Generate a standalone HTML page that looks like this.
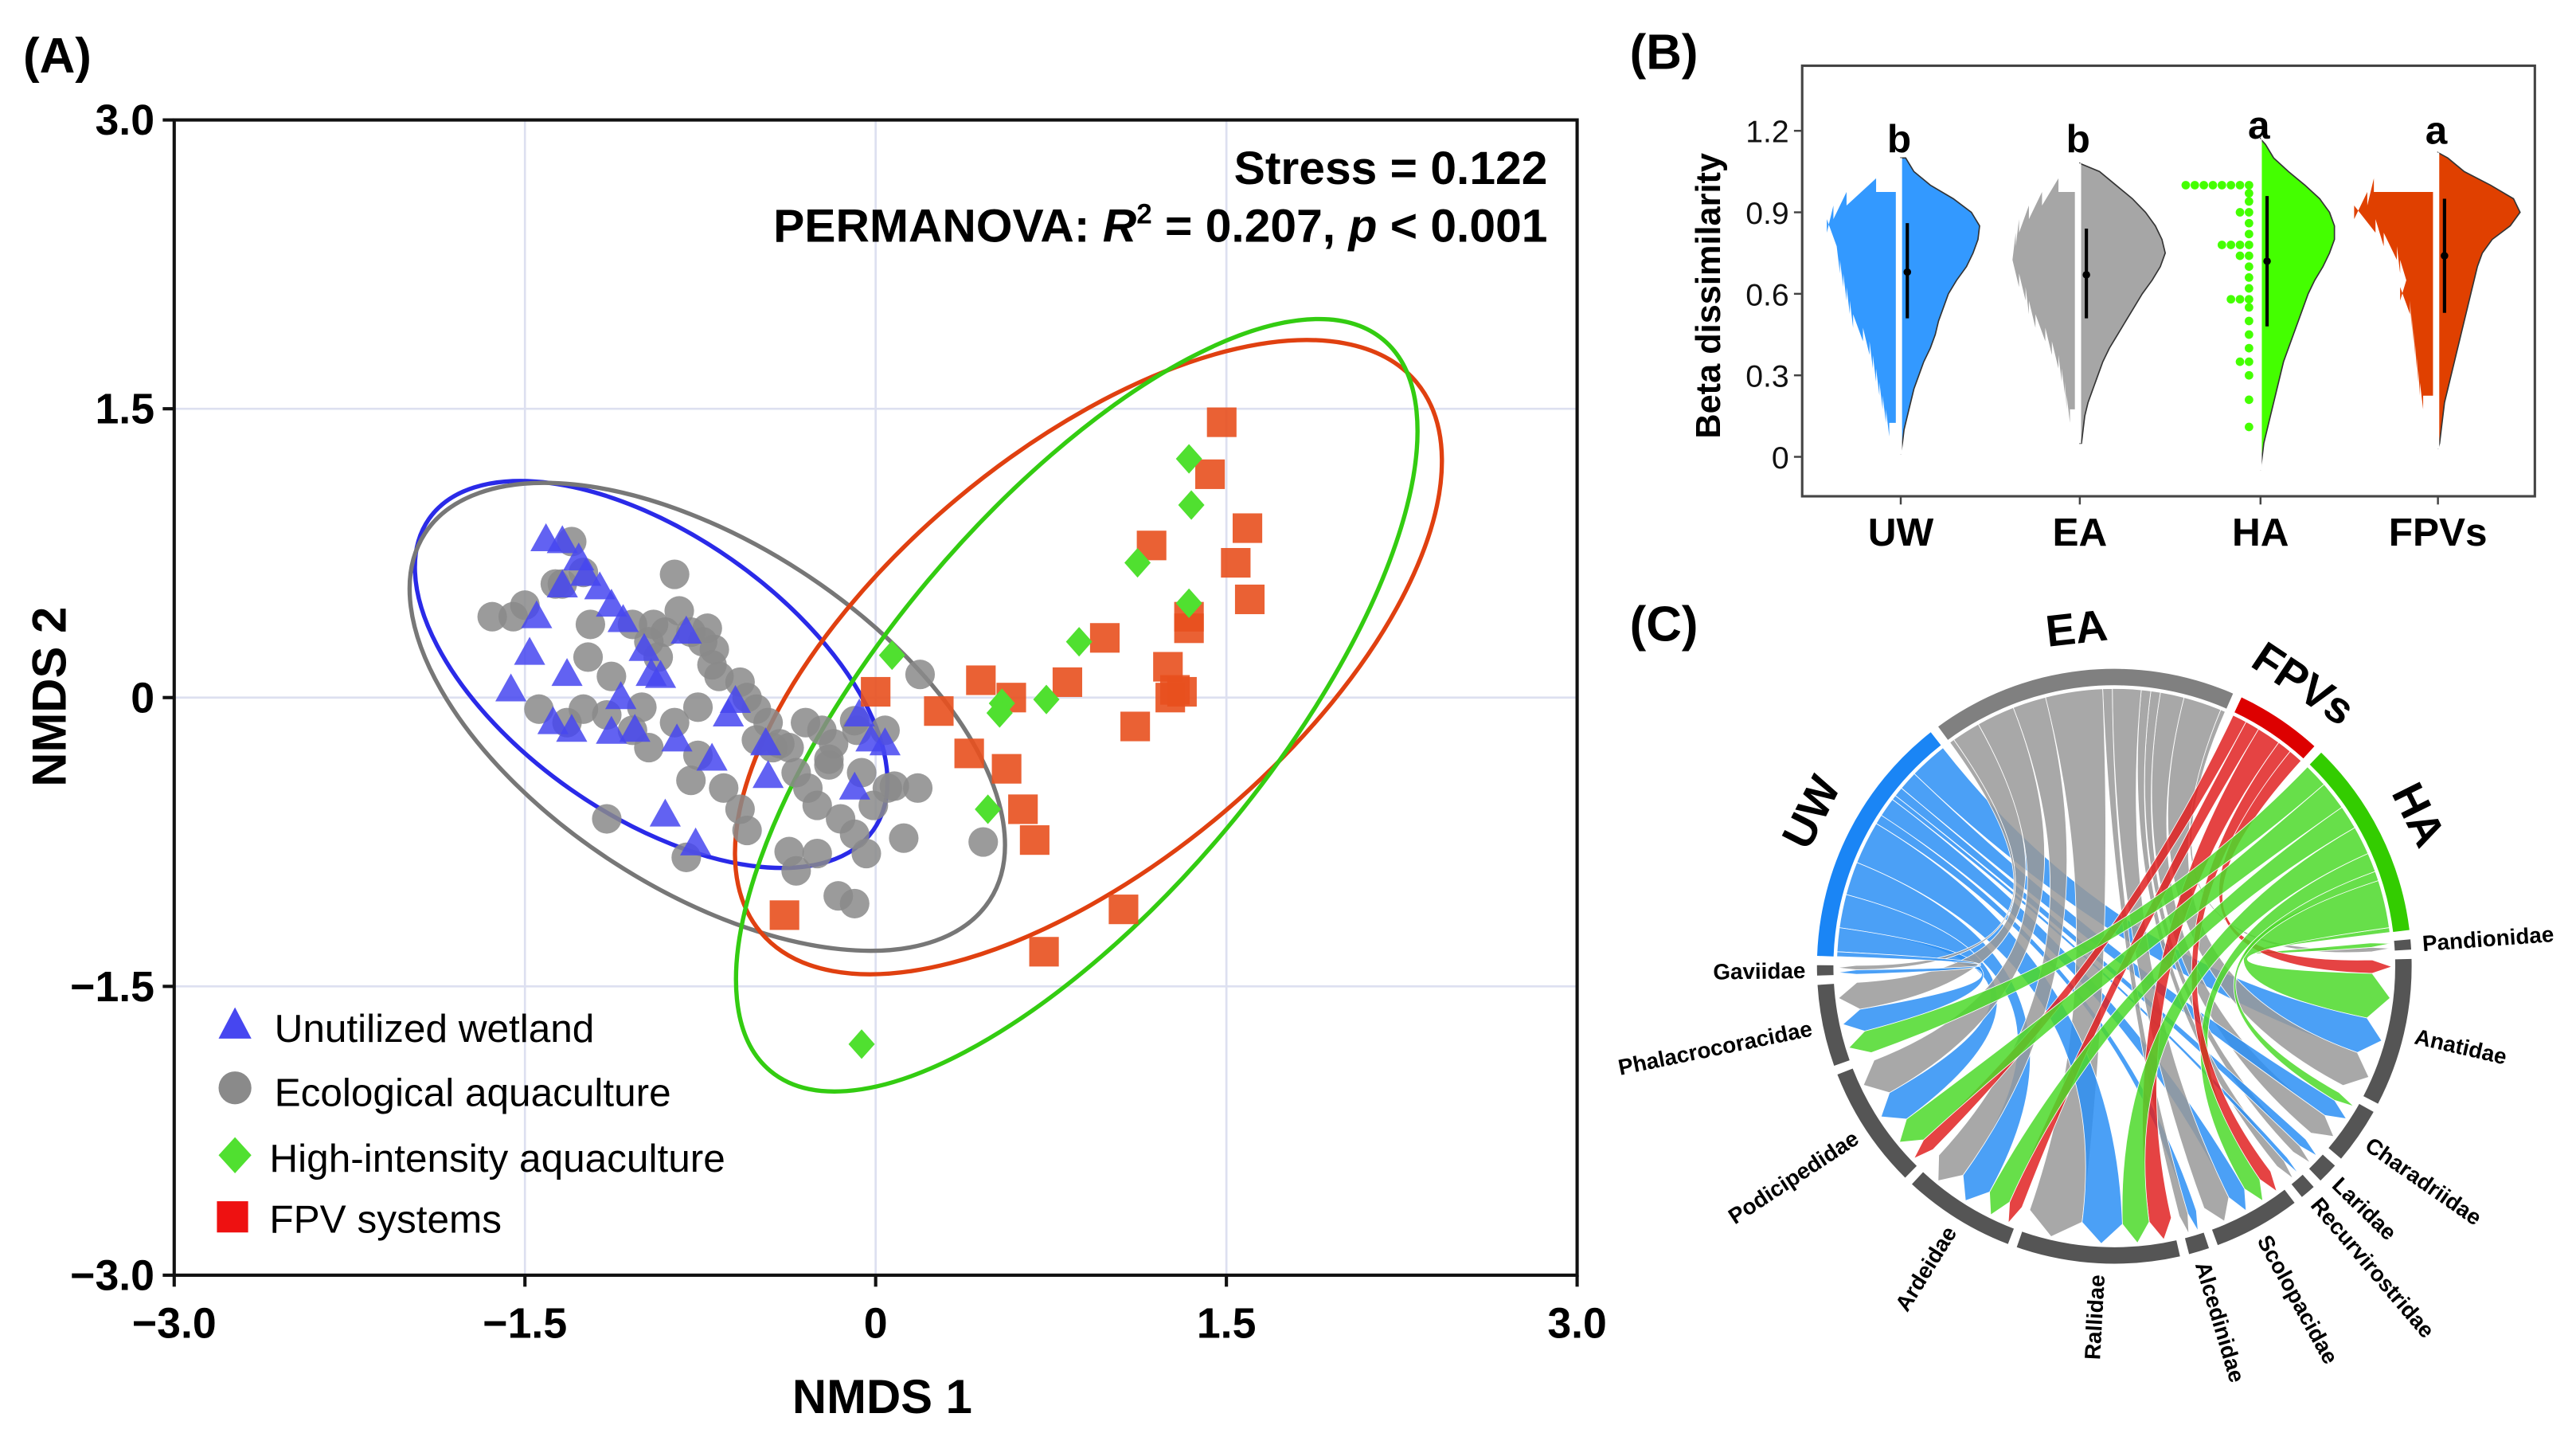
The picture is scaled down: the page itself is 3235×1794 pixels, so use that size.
<!DOCTYPE html>
<html><head><meta charset="utf-8">
<style>
html,body{margin:0;padding:0;background:#fff;}
svg{display:block;font-family:"Liberation Sans",Arial,sans-serif;}
</style></head>
<body>
<svg id="fig" width="3235" height="1794" viewBox="0 0 1568 869.6" xmlns="http://www.w3.org/2000/svg">
<g id="panelA"></g>
<g id="panelB"></g>
<g id="panelC"></g>
</svg>
<script>
// ===== Panel A data =====
const uwX=[-1.41,-1.34,-1.27,-1.24,-1.18,-1.13,-1.08,-1.34,-1.45,-1.48,-1.56,-1.32,-1.38,-1.30,-1.13,-1.03,-1.09,-0.96,-0.99,-0.92,-0.85,-0.81,-0.70,-0.63,-0.60,-0.47,-0.46,-0.90,-0.77,-0.07,-0.02,0.04,-0.09];
const uwY=[0.82,0.81,0.72,0.64,0.57,0.48,0.40,0.58,0.42,0.23,0.04,0.12,-0.13,-0.17,-0.18,-0.17,0.00,0.12,0.25,0.11,-0.22,0.34,-0.32,-0.09,-0.02,-0.24,-0.41,-0.61,-0.76,-0.09,-0.22,-0.24,-0.47];
const eaX=[-1.55,-1.50,-1.34,-1.30,-1.25,-1.37,-1.23,-1.13,-1.04,-0.97,-0.90,-0.86,-0.79,-0.74,-0.70,-0.67,-0.58,-0.55,-0.51,-0.46,-0.41,-0.37,-0.34,-0.29,-0.25,-0.20,-0.15,-0.09,-0.04,-0.01,0.05,0.08,0.12,0.18,0.19,-0.65,-0.58,-0.55,-0.37,-0.34,-0.25,-0.16,-0.09,-0.08,0.04,-1.15,-0.81,0.46,-0.95,-0.76,-0.86,-1.00,-1.15,-1.44,-1.32,-1.25,-1.04,-0.97,-0.76,-0.79,-0.51,-0.44,-0.30,-0.23,-0.18,-0.09,-0.06,-0.20,-0.84,-0.72,-0.69,-1.64,-1.22,-0.93];
const eaY=[0.42,0.48,0.59,0.81,0.65,0.59,0.21,0.11,0.38,0.29,0.34,0.64,0.34,0.29,0.17,0.11,0.08,0.00,-0.06,-0.13,-0.24,-0.26,-0.39,-0.47,-0.56,-0.35,-0.63,-0.71,-0.81,-0.56,-0.47,-0.46,-0.73,-0.47,0.12,-0.47,-0.58,-0.69,-0.80,-0.90,-0.81,-1.03,-1.07,-0.17,-0.17,-0.63,-0.83,-0.75,0.38,-0.05,-0.13,-0.05,-0.09,-0.06,-0.13,-0.06,-0.17,-0.26,-0.30,-0.43,-0.22,-0.26,-0.13,-0.17,-0.24,-0.12,-0.39,-0.32,0.45,0.36,0.25,0.42,0.38,0.21];
const haX=[1.34,1.35,1.12,1.34,0.87,0.07,0.54,0.53,0.73,0.48,-0.06];
const haY=[1.24,1.00,0.70,0.49,0.29,0.22,-0.03,-0.08,-0.01,-0.58,-1.80];
const fpvX=[1.48,1.43,1.59,1.18,1.54,1.60,1.34,1.34,0.98,1.25,1.28,1.26,1.31,0.45,0.00,0.58,0.82,0.27,1.11,0.40,0.56,0.63,0.68,1.06,0.72,-0.39];
const fpvY=[1.43,1.16,0.88,0.79,0.70,0.51,0.42,0.36,0.31,0.16,0.04,0.00,0.03,0.09,0.03,0.00,0.08,-0.07,-0.15,-0.29,-0.37,-0.58,-0.74,-1.10,-1.32,-1.13];
const axisTicks=[-3.0,-1.5,0,1.5,3.0];
const axisTickLabels=["\u22123.0","\u22121.5","0","1.5","3.0"];
const ellCx=[-0.96,-0.72,0.91,0.86];
const ellCy=[0.12,-0.10,0.21,-0.04];
const ellRx=[1.16,1.44,1.83,2.04];
const ellRy=[0.60,0.74,0.88,0.83];
const ellRot=[35,33,-40,-50];
const ellColor=["#2a2ae8","#777777","#e04010","#33cc11"];

// ===== Panel B data =====
const bCats=["UW","EA","HA","FPVs"];
const bLetters=["b","b","a","a"];
const bLetterY=[1.17,1.17,1.22,1.2];
const densLevels=[0,0.05,0.1,0.15,0.2,0.25,0.3,0.35,0.4,0.45,0.5,0.55,0.6,0.65,0.7,0.75,0.8,0.85,0.9,0.95,1.0,1.05,1.1,1.15,1.2];
const densUW=[0,1,2,4,6,8,11,14,18,21,23,26,29,34,40,44,47,48,43,32,18,8,3,0,0];
const densEA=[0,1,2,3,5,8,11,14,18,23,28,33,38,44,49,52,50,46,40,32,22,12,5,1,0];
const densHA=[1,2,4,6,8,10,12,14,17,20,23,26,29,33,38,42,45,45,42,36,27,17,8,3,1];
const densFPV=[0,1,2,3,4,6,8,10,12,14,16,18,20,22,24,27,33,44,50,46,32,16,6,2,0];
const dotsUW=[0,0,4,6,8,10,12,14,16,20,26,28,30,32,34,36,36,42,38,30,12,0,0,0,0];
const dotsEA=[0,0,0,3,5,6,8,10,14,18,24,28,30,34,38,38,36,34,28,20,10,0,0,0,0];
const dotsFPV=[0,0,0,0,6,8,9,10,11,12,13,14,20,15,20,22,30,35,48,40,36,0,0,0,0];
const haDotY=[0.11,0.21,0.3,0.35,0.4,0.45,0.5,0.55,0.58,0.62,0.66,0.7,0.74,0.78,0.82,0.86,0.9,0.94,0.97,1.0];
const haDotN=[1,1,1,2,1,1,1,1,3,1,1,1,2,4,1,1,2,1,1,8];
const bQ1=[0.51,0.51,0.48,0.53];
const bQ3=[0.86,0.84,0.96,0.95];
const bMed=[0.68,0.67,0.72,0.74];
const bRangeMin=[0.01,0.05,-0.05,0.03];
const bRangeMax=[1.1,1.08,1.17,1.12];
const bTicks=[0,0.3,0.6,0.9,1.2];

// ===== Panel C data =====
const groups=["UW","EA","FPVs","HA"];
const families=["Pandionidae","Anatidae","Charadriidae","Laridae","Recurvirostridae","Scolopacidae","Alcedinidae","Rallidae","Ardeidae","Podicipedidae","Phalacrocoracidae","Gaviidae"];
const linkSrc=["EA","HA","FPVs","HA","UW","EA","EA","UW","HA","EA","UW","EA","UW","UW","EA","HA","FPVs","UW","EA","EA","FPVs","HA","UW","EA","FPVs","HA","UW","EA","FPVs","HA","UW","EA","UW","EA","HA","EA","UW"];
const linkFam=["Pandionidae","Pandionidae","Anatidae","Anatidae","Anatidae","Anatidae","Charadriidae","Charadriidae","Charadriidae","Laridae","Laridae","Recurvirostridae","Recurvirostridae","Scolopacidae","Scolopacidae","Scolopacidae","Scolopacidae","Alcedinidae","Alcedinidae","Rallidae","Rallidae","Rallidae","Rallidae","Rallidae","Ardeidae","Ardeidae","Ardeidae","Ardeidae","Podicipedidae","Podicipedidae","Podicipedidae","Podicipedidae","Phalacrocoracidae","Phalacrocoracidae","Phalacrocoracidae","Gaviidae","Gaviidae"];
const linkVal=[1,1,3,10,8,8,5,4,2,2,2,2,1,4,6,4,3,2,2,12,5,6,9,0,3,5,7,7,3,6,7,8,5,6,5,1,1];

const NS="http://www.w3.org/2000/svg";
function mk(parent,tag,attrs,text){const e=document.createElementNS(NS,tag);for(const k in attrs)e.setAttribute(k,attrs[k]);if(text!==undefined)e.textContent=text;parent.appendChild(e);return e;}

// ---------- Panel A ----------
(function(){
const g=document.getElementById('panelA');
const L=106,R=960,T=73,B=776;
const sx=v=>L+(v+3)/6*(R-L), sy=v=>B-(v+3)/6*(B-T);
const ux=(R-L)/6;
let e=mk(g,'text',{x:14,y:44,'font-size':30,'font-weight':'bold'},'(A)');

[-1.5,0,1.5].forEach(v=>{
 e=mk(g,'line',{x1:sx(v),x2:sx(v),y1:T,y2:B,stroke:'#dde0f0','stroke-width':1.3});
 
 e=mk(g,'line',{x1:L,x2:R,y1:sy(v),y2:sy(v),stroke:'#dde0f0','stroke-width':1.3});
 
});
e=mk(g,'rect',{x:L,y:T,width:R-L,height:B-T,fill:'none',stroke:'#111','stroke-width':2});

axisTicks.forEach((v,i)=>{
 e=mk(g,'line',{x1:sx(v),x2:sx(v),y1:B,y2:B+7,stroke:'#111','stroke-width':2});
 
 e=mk(g,'text',{x:sx(v),y:B+38,'font-size':26,'font-weight':'bold','text-anchor':'middle'},axisTickLabels[i]);
 
 e=mk(g,'line',{x1:L-7,x2:L,y1:sy(v),y2:sy(v),stroke:'#111','stroke-width':2});
 
 e=mk(g,'text',{x:L-12,y:sy(v)+9,'font-size':26,'font-weight':'bold','text-anchor':'end'},axisTickLabels[i]);
 
});
e=mk(g,'text',{x:537,y:860,'font-size':29,'font-weight':'bold','text-anchor':'middle'},'NMDS 1');

e=mk(g,'text',{x:0,y:0,'font-size':29,'font-weight':'bold','text-anchor':'middle',transform:'translate(40,424) rotate(-90)'},'NMDS 2');

e=mk(g,'text',{x:942,y:112,'font-size':28.5,'font-weight':'bold','text-anchor':'end'},'Stress = 0.122');

e=mk(g,'text',{x:942,y:147,'font-size':28.5,'font-weight':'bold','text-anchor':'end'});

e.innerHTML='PERMANOVA: <tspan font-style="italic">R</tspan><tspan font-size="17" dy="-11">2</tspan><tspan dy="11"> = 0.207, </tspan><tspan font-style="italic">p</tspan> &lt; 0.001';
ellCx.forEach((c,i)=>{
 e=mk(g,'ellipse',{cx:sx(c),cy:sy(ellCy[i]),rx:ellRx[i]*ux,ry:ellRy[i]*ux,fill:'none',stroke:ellColor[i],'stroke-width':2.6,transform:`rotate(${ellRot[i]} ${sx(c)} ${sy(ellCy[i])})`});
 
});
eaX.forEach((x,i)=>{e=mk(g,'circle',{cx:sx(x),cy:sy(eaY[i]),r:9,fill:'#8a8a8a','fill-opacity':0.85});
 });
uwX.forEach((x,i)=>{const cx=sx(x),cy=sy(uwY[i]);e=mk(g,'polygon',{points:`${cx},${cy-10} ${cx-9.5},${cy+7} ${cx+9.5},${cy+7}`,fill:'#4646f0','fill-opacity':0.85});
 });
fpvX.forEach((x,i)=>{const cx=sx(x),cy=sy(fpvY[i]);e=mk(g,'rect',{x:cx-9,y:cy-9,width:18,height:18,fill:'#e8501e','fill-opacity':0.9});
 });
haX.forEach((x,i)=>{const cx=sx(x),cy=sy(haY[i]);e=mk(g,'polygon',{points:`${cx},${cy-9} ${cx+8},${cy} ${cx},${cy+9} ${cx-8},${cy}`,fill:'#50e030'});
 });
const lg=mk(g,'g',{});
e=mk(lg,'polygon',{points:'143,613 133,632 153,632',fill:'#4646f0'});
e=mk(lg,'text',{x:167,y:634,'font-size':24},'Unutilized wetland');
e=mk(lg,'circle',{cx:143,cy:662,r:10,fill:'#8a8a8a'});
e=mk(lg,'text',{x:167,y:673,'font-size':24},'Ecological aquaculture');
e=mk(lg,'polygon',{points:'143,692 153,703 143,714 133,703',fill:'#50e030'});
e=mk(lg,'text',{x:164,y:713,'font-size':24},'High-intensity aquaculture');
e=mk(lg,'rect',{x:132,y:731,width:19,height:19,fill:'#ee1111'});
e=mk(lg,'text',{x:164,y:750,'font-size':24},'FPV systems');
})();

// ---------- Panel B ----------
(function(){
const g=document.getElementById('panelB');
const L=1097,R=1543,T=40,B=302;
const cx=[1157,1266,1376,1484];
const sy=v=>278-v/0.3*49.6;
const cols=['#3399ff','#a6a6a6','#44ff00','#e04000'];
const dens=[densUW,densEA,densHA,densFPV];
const dots=[dotsUW,dotsEA,null,dotsFPV];
const half=0.025;
let e=mk(g,'text',{x:992,y:42,'font-size':30,'font-weight':'bold'},'(B)');

e=mk(g,'rect',{x:L,y:T,width:R-L,height:B-T,fill:'none',stroke:'#444','stroke-width':1.5});

bTicks.forEach(v=>{
 e=mk(g,'line',{x1:L-5,x2:L,y1:sy(v),y2:sy(v),stroke:'#444','stroke-width':1.2});
 
 e=mk(g,'text',{x:L-8,y:sy(v)+7,'font-size':19,'text-anchor':'end',fill:'#111'},v===0?'0':v.toFixed(1));
 
});
e=mk(g,'text',{x:0,y:0,'font-size':21,'font-weight':'bold','text-anchor':'middle',transform:'translate(1047,180) rotate(-90)'},'Beta dissimilarity');

bCats.forEach((c,i)=>{
 const x=cx[i];
 e=mk(g,'line',{x1:x,x2:x,y1:B,y2:B+5,stroke:'#444','stroke-width':1.2});
 
 e=mk(g,'text',{x:x,y:332,'font-size':24,'font-weight':'bold','text-anchor':'middle'},c);
 
 let p=`M${x},${sy(bRangeMin[i])}`;
 densLevels.forEach((lv,j)=>{ if(lv>=bRangeMin[i]&&lv<=bRangeMax[i]) p+=` L${x+dens[i][j]},${sy(lv)}`; });
 p+=` L${x},${sy(bRangeMax[i])} Z`;
 e=mk(g,'path',{d:p,fill:cols[i],stroke:'#333','stroke-width':0.8});
 
 if(dots[i]){
  const pts=[];
  densLevels.forEach((lv,j)=>{const w=dots[i][j]; if(w>0){pts.push([x-3-w,sy(lv+half)],[x-3-w,sy(lv-half)]);}});
  if(pts.length){const q=`M${x-3},${pts[0][1]} `+pts.map(pp=>`L${pp[0]},${pp[1]}`).join(' ')+` L${x-3},${pts[pts.length-1][1]} Z`;
   e=mk(g,'path',{d:q,fill:cols[i]});
   }
 } else {
  haDotY.forEach((yv,k)=>{for(let n=0;n<haDotN[k];n++){
   e=mk(g,'circle',{cx:x-7-n*5.5,cy:sy(yv),r:2.6,fill:cols[i]});
   }});
 }
 e=mk(g,'line',{x1:x,x2:x,y1:sy(bRangeMin[i]),y2:sy(bRangeMax[i]),stroke:'#fff','stroke-width':1.6});
 
 e=mk(g,'line',{x1:x+4,x2:x+4,y1:sy(bQ1[i]),y2:sy(bQ3[i]),stroke:'#000','stroke-width':2});
 
 e=mk(g,'circle',{cx:x+4,cy:sy(bMed[i]),r:2.3,fill:'#000'});
 
 e=mk(g,'text',{x:x-1,y:sy(bLetterY[i])+8,'font-size':24,'font-weight':'bold','text-anchor':'middle'},bLetters[i]);
 
});
})();

// ---------- Panel C ----------
(function(){
const g=document.getElementById('panelC');
const CX=1287,CY=588,RO=181,RI=171;
let e=mk(g,'text',{x:992,y:390,'font-size':30,'font-weight':'bold'},'(C)');

const groupCol={UW:'#1a85f5',EA:'#808080',FPVs:'#dd0000',HA:'#33cc00'};
const ribCol={UW:'#2b8ff5',EA:'#999999',FPVs:'#e02222',HA:'#4cd92a'};
const order=groups.concat(families);
const tot={};order.forEach(n=>tot[n]=0);
linkVal.forEach((v,i)=>{tot[linkSrc[i]]+=v;tot[linkFam[i]]+=v;});
const gap=1.8;let sum=0;order.forEach(n=>sum+=tot[n]);
const k=(360-gap*order.length)/sum;
const start={},end={};let a=272;
order.forEach(n=>{start[n]=a;end[n]=a+tot[n]*k;a=end[n]+gap;});
const P=(ang,r)=>{const t=(ang-90)*Math.PI/180;return [CX+r*Math.cos(t),CY+r*Math.sin(t)];};
const cur={};order.forEach(n=>cur[n]=start[n]);
const famIdx=n=>families.indexOf(n);
const grpOrderF=['FPVs','HA','UW','EA'];
const links=linkVal.map((v,i)=>({i,v,s:linkSrc[i],f:linkFam[i]}));
const sPos={},fPos={};
groups.forEach(gn=>{links.filter(l=>l.s===gn).sort((x,y)=>famIdx(y.f)-famIdx(x.f)).forEach(l=>{sPos[l.i]=[cur[gn],cur[gn]+l.v*k];cur[gn]+=l.v*k;});});
families.forEach(fn=>{links.filter(l=>l.f===fn).sort((x,y)=>grpOrderF.indexOf(x.s)-grpOrderF.indexOf(y.s)).forEach(l=>{fPos[l.i]=[cur[fn],cur[fn]+l.v*k];cur[fn]+=l.v*k;});});
links.forEach(l=>{ if(l.v<=0) return;
 const [a1,a2]=sPos[l.i],[b1,b2]=fPos[l.i];
 const p1=P(a1,RI-2),p2=P(a2,RI-2),q1=P(b1,RI-14),q2=P(b2,RI-14),tip=P((b1+b2)/2,RI-2);
 const d=`M${p1} A${RI},${RI} 0 0 1 ${p2} Q${CX},${CY} ${q1} L${tip} L${q2} Q${CX},${CY} ${p1} Z`;
 e=mk(g,'path',{d:d,fill:ribCol[l.s],'fill-opacity':0.85,stroke:'#fff','stroke-width':0.4});
 
});
order.forEach(n=>{
 const s=start[n],t=end[n];const big=(t-s)>180?1:0;
 const o1=P(s,RO),o2=P(t,RO),i1=P(t,RI),i2=P(s,RI);
 e=mk(g,'path',{d:`M${o1} A${RO},${RO} 0 ${big} 1 ${o2} L${i1} A${RI},${RI} 0 ${big} 0 ${i2} Z`,fill:groupCol[n]||'#555'});
 
 const m=(((s+t)/2)%360+360)%360;
 if(groupCol[n]){
  const [lx,ly]=P(m,RO+26);
  e=mk(g,'text',{x:0,y:0,'font-size':27,'font-weight':'bold','text-anchor':'middle','dominant-baseline':'central',transform:`translate(${lx},${ly}) rotate(${m>180?m-360:m})`},n);
  
 } else {
  const [lx,ly]=P(m,RO+7);
  let rot,anchor;
  if(m<180){rot=m-90;anchor='start';} else {rot=m-270;anchor='end';}
  e=mk(g,'text',{x:0,y:0,'font-size':13.5,'font-weight':'bold','text-anchor':anchor,'dominant-baseline':'central',transform:`translate(${lx},${ly}) rotate(${rot})`},n);
  
 }
});
})();
</script>
</body></html>
